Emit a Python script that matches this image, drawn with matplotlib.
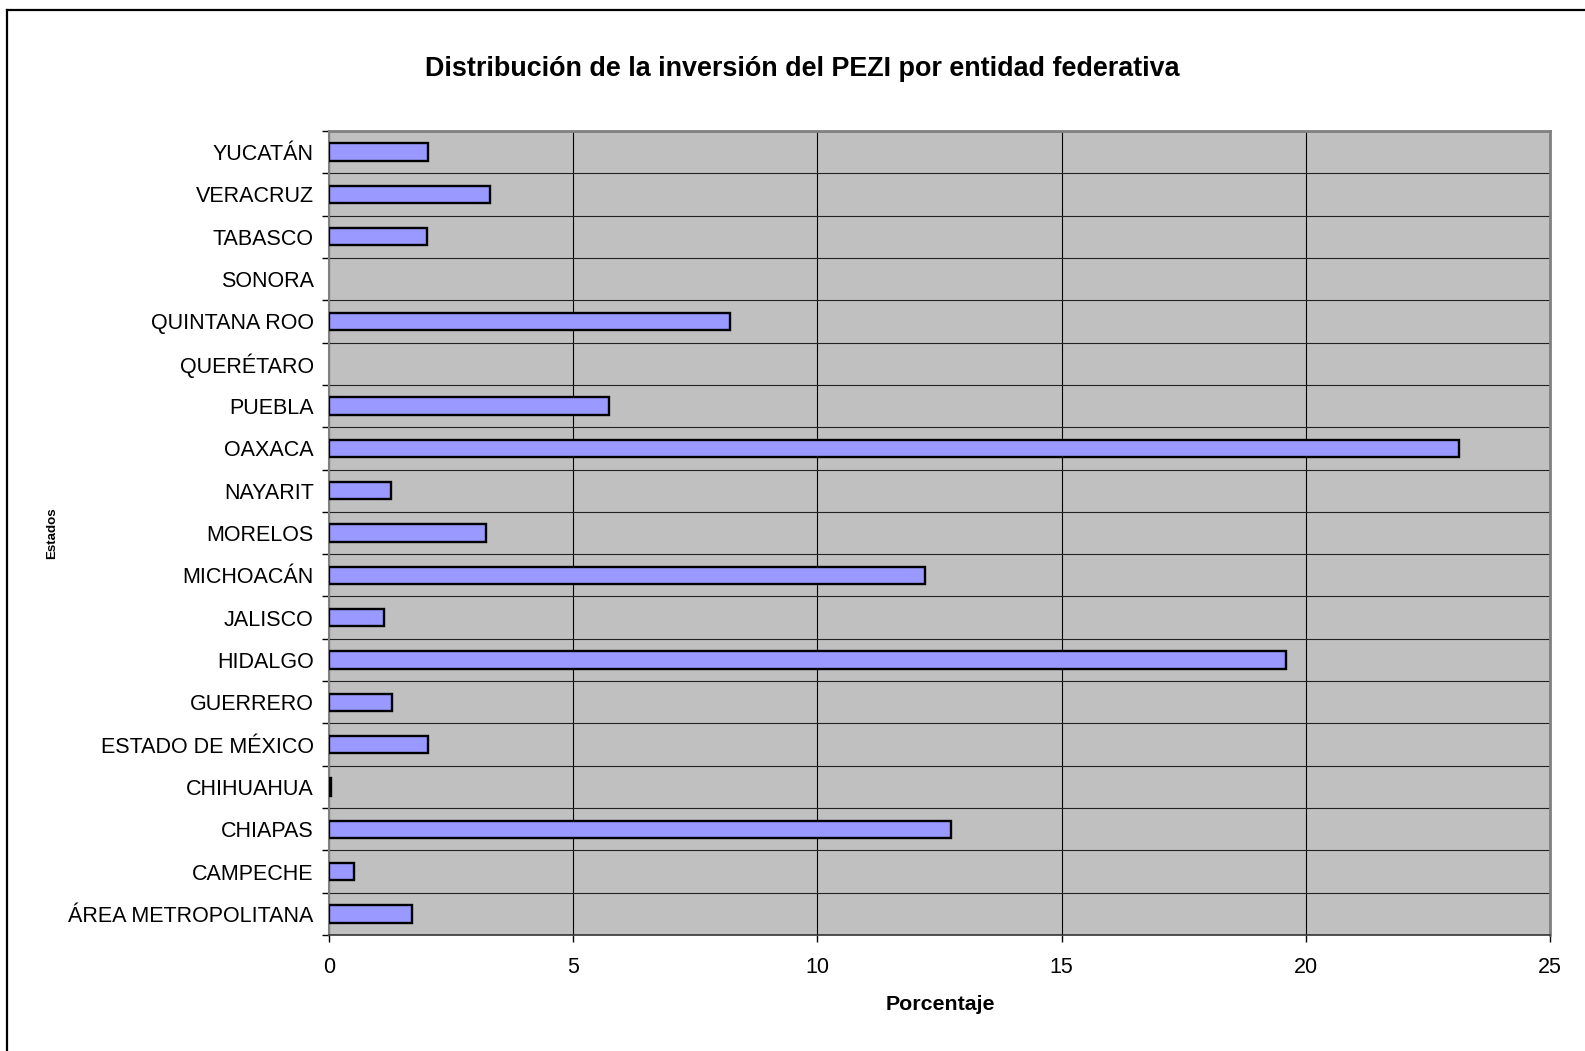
import numpy as np
import matplotlib
matplotlib.use("Agg")
import matplotlib.pyplot as plt
from matplotlib.lines import Line2D

plt.rcParams['font.family'] = ['Liberation Sans', 'DejaVu Sans']

# Data (bottom to top, as drawn)
estados = ["ÁREA METROPOLITANA", "CAMPECHE", "CHIAPAS", "CHIHUAHUA",
           "ESTADO DE MÉXICO", "GUERRERO", "HIDALGO", "JALISCO", "MICHOACÁN",
           "MORELOS", "NAYARIT", "OAXACA", "PUEBLA", "QUERÉTARO",
           "QUINTANA ROO", "SONORA", "TABASCO", "VERACRUZ", "YUCATÁN"]
porcentaje = [1.69, 0.52, 12.73, 0.05, 2.03, 1.28, 19.6, 1.12, 12.2,
              3.22, 1.27, 23.13, 5.74, 0.0, 8.21, 0.0, 2.0, 3.3, 2.02]
x_ticks = [0, 5, 10, 15, 20, 25]

titulo = "Distribución de la inversión del PEZI por entidad federativa"

fig = plt.figure(figsize=(15.85, 10.51), dpi=100)
ax = fig.add_axes([329/1585, 116/1051, 1221/1585, 804/1051])

# frame around chart (open at right / bottom like the clipped screenshot)
fig.add_artist(Line2D([7/1585, 7/1585], [0, 1 - 10/1051], transform=fig.transFigure,
                      color="black", lw=1.6))
fig.add_artist(Line2D([7/1585, 1.01], [1 - 10/1051, 1 - 10/1051], transform=fig.transFigure,
                      color="black", lw=1.6))

ax.set_facecolor("#C0C0C0")
y = np.arange(len(estados))
edges = ["black" if v > 0 else "none" for v in porcentaje]
ax.barh(y, porcentaje, height=0.41, color="#9999FF", edgecolor=edges,
        linewidth=1.7, zorder=3)

ax.set_xlim(0, 25)
ax.set_ylim(-0.5, len(estados) - 0.5)
ax.set_xticks(x_ticks)
ax.set_xticklabels([str(t) for t in x_ticks], fontsize=15.5)
ax.set_yticks(y)
ax.set_yticklabels(estados, fontsize=15.5)
ax.set_yticks(np.arange(len(estados) + 1) - 0.5, minor=True)

ax.tick_params(axis="y", which="major", length=0, pad=11)
ax.tick_params(axis="y", which="minor", length=5, width=1, color="black")
ax.tick_params(axis="x", which="major", length=5, width=1, pad=11)

ax.grid(axis="x", which="major", color="black", lw=0.8, zorder=1)
ax.grid(axis="y", which="minor", color="#222222", lw=0.8, zorder=1)
ax.set_axisbelow(True)

for s in ["top", "right"]:
    ax.spines[s].set_color("#808080")
    ax.spines[s].set_linewidth(2)
ax.spines["left"].set_color("#808080")
ax.spines["left"].set_linewidth(1.5)
ax.spines["bottom"].set_color("#333333")
ax.spines["bottom"].set_linewidth(1.2)

fig.text(802/1585, 1 - 69/1051, titulo, ha="center", va="center",
         fontsize=19.4, fontweight="bold")
fig.text(940/1585, 1 - 1004/1051, "Porcentaje", ha="center", va="center",
         fontsize=15.4, fontweight="bold")
fig.text(52/1585, 1 - 533/1051, "Estados", rotation=90, ha="center", va="center",
         fontsize=9.6, fontweight="bold")

fig.savefig("out.png", dpi=100, facecolor="white")
